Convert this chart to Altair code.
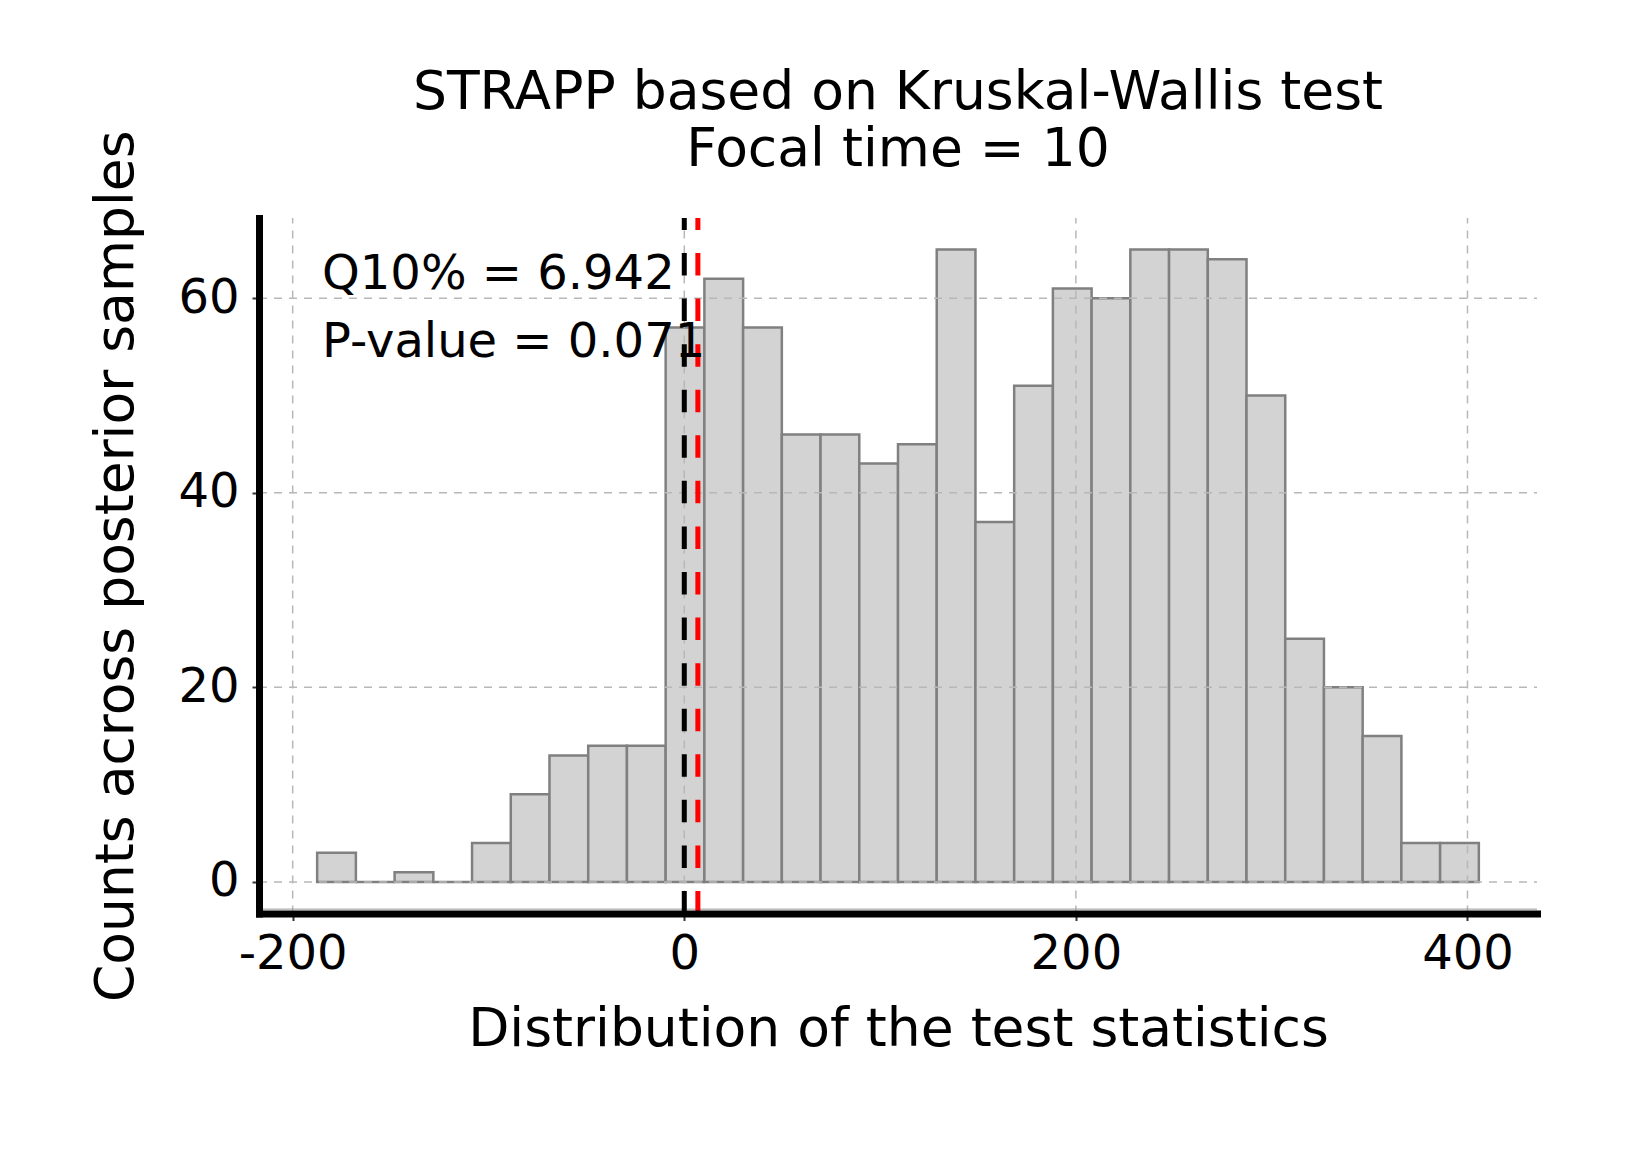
import altair as alt
import numpy as np
import pandas as pd

# ---- data ----
counts = [3, 0, 1, 0, 4, 9, 13, 14, 14, 57, 62, 57, 46, 46, 43, 45, 65, 37,
          51, 61, 60, 65, 65, 64, 50, 25, 20, 15, 4, 4]
bin_first_edge = -187.5
bin_last_edge = 405.8
ref_lines = [0.0, 6.942]
ref_colors = ["black", "red"]
annot_text = ["Q10% = 6.942", "P-value = 0.071"]
annot_x = [-185.0, -185.0]
annot_y = [60.95, 53.95]
x_ticks = [-200, 0, 200, 400]
y_ticks = [0, 20, 40, 60]
x_domain = [-217.2, 435.5]
y_domain = [-3.25, 68.25]

edges = np.linspace(bin_first_edge, bin_last_edge, len(counts) + 1)
hist = pd.DataFrame({"lo": edges[:-1], "hi": edges[1:], "count": counts,
                     "zero": [0] * len(counts)})
lines = pd.DataFrame({"value": ref_lines, "color": ref_colors})
annot = pd.DataFrame({"x": annot_x, "y": annot_y, "label": annot_text})
vgrid = pd.DataFrame({"v": x_ticks})
hgrid = pd.DataFrame({"v": y_ticks})

FONT = "DejaVu Sans"
W, H = 1278, 695.5

xs = alt.Scale(domain=x_domain, nice=False, zero=False)
ys = alt.Scale(domain=y_domain, nice=False, zero=False)

common_axis = dict(
    grid=False,
    domainColor="black", domainWidth=7, domainCap="square",
    tickColor="#333333", tickWidth=2, tickSize=7,
    labelFont=FONT, labelFontSize=48, labelColor="black", labelFlush=False,
    titleFont=FONT, titleFontSize=53.5, titleFontWeight="normal", titleColor="black",
    titleBaseline="alphabetic", zindex=1,
)

xaxis = alt.Axis(values=x_ticks, labelExpr="'' + datum.value",
                 title="Distribution of the test statistics",
                 labelPadding=10, titleX=W / 2, titleY=131.5, **common_axis)
yaxis = alt.Axis(values=y_ticks, title="Counts across posterior samples",
                 labelPadding=13, titleX=-127, titleY=H / 2, **common_axis)

bars = alt.Chart(hist).mark_rect(
    fill="#d3d3d3", stroke="#808080", strokeWidth=2.5
).encode(
    x=alt.X("lo:Q", scale=xs, axis=xaxis),
    x2="hi:Q",
    y=alt.Y("zero:Q", scale=ys, axis=yaxis),
    y2="count:Q",
)

grid_style = dict(color="#b8b8b8", strokeWidth=1.5, strokeDash=[8, 7])
vgrid_layer = alt.Chart(vgrid).mark_rule(**grid_style).encode(
    x=alt.X("v:Q", scale=xs),
    y=alt.datum(y_domain[0]),
    y2=alt.datum(y_domain[1]),
)
hgrid_layer = alt.Chart(hgrid).mark_rule(**grid_style).encode(
    y=alt.Y("v:Q", scale=ys),
    x=alt.datum(x_domain[0]),
    x2=alt.datum(x_domain[1]),
)

base_rule = alt.Chart(pd.DataFrame({"a": [x_domain[0]], "b": [x_domain[1]]})).mark_rule(
    color="#999999", strokeWidth=1
).encode(x=alt.X("a:Q", scale=xs), x2="b:Q", y=alt.datum(-2.8))

vlines = alt.Chart(lines).mark_rule(strokeWidth=5, strokeDash=[22.5, 23.07]).encode(
    x=alt.X("value:Q", scale=xs),
    y=alt.datum(y_domain[0]),
    y2=alt.datum(y_domain[1]),
    color=alt.Color("color:N", scale=None),
)

texts = alt.Chart(annot).mark_text(
    align="left", baseline="alphabetic", font=FONT, fontSize=48, color="black"
).encode(
    x=alt.X("x:Q", scale=xs),
    y=alt.Y("y:Q", scale=ys),
    text="label:N",
)

chart = alt.layer(bars, vgrid_layer, hgrid_layer, base_rule, vlines, texts).properties(
    width=W,
    height=H,
    background="white",
    title=alt.TitleParams(
        text=["STRAPP based on Kruskal-Wallis test", "Focal time = 10"],
        font=FONT, fontSize=53.5, fontWeight="normal", color="black",
        anchor="middle", frame="group", baseline="bottom", offset=-101, lineHeight=57,
    ),
    autosize=alt.AutoSizeParams(type="none"),
    padding={"left": 251, "top": 210, "right": 60, "bottom": 200},
).configure_view(strokeWidth=0, stroke="transparent")

chart.save("out.html", embed_options={"renderer": "svg", "actions": False})
